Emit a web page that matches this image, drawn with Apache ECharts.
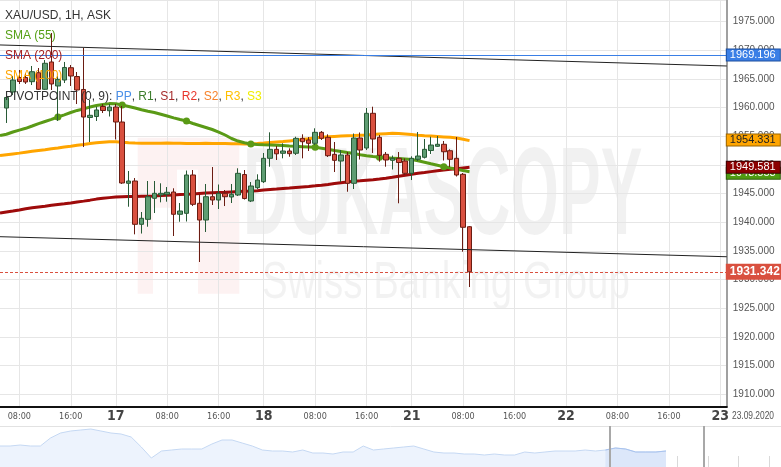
<!DOCTYPE html>
<html><head><meta charset="utf-8">
<script src="https://cdn.jsdelivr.net/npm/echarts@6/dist/echarts.min.js"></script>
<style>html,body{margin:0;padding:0;background:#fff}#c{width:781px;height:467px}</style>
</head><body><div id="c"></div>
<script>
// ---------- DATA ----------
// hourly candles XAU/USD, [open, close, low, high]
const candles = [
[1959.93,1961.77,1957.32,1962.20],[1962.73,1964.82,1962.20,1965.52],[1965.26,1964.56,1964.13,1966.57],
[1965.26,1964.47,1964.13,1966.05],[1964.53,1966.27,1963.95,1967.27],[1966.10,1963.20,1963.08,1966.92],
[1963.20,1967.74,1963.08,1968.31],[1967.97,1964.13,1963.08,1973.03],[1963.78,1964.94,1957.67,1965.52],
[1964.82,1967.01,1964.30,1967.97],[1966.97,1965.52,1963.78,1967.44],[1965.43,1963.08,1960.63,1966.22],
[1963.17,1958.36,1953.12,1970.41],[1958.28,1958.66,1954.00,1961.33],[1958.45,1959.59,1957.67,1960.16],
[1960.20,1959.50,1959.06,1960.63],[1959.46,1960.11,1958.45,1960.63],[1960.11,1957.49,1954.44,1960.63],
[1957.49,1946.84,1946.67,1960.28],[1946.79,1947.19,1942.70,1948.94],[1947.19,1939.63,1937.88,1947.71],
[1939.63,1940.68,1938.02,1941.78],[1940.50,1944.45,1939.21,1947.19],[1944.17,1945.04,1941.60,1947.19],
[1944.75,1945.04,1943.47,1946.79],[1944.87,1945.22,1943.58,1946.14],[1945.27,1941.38,1937.59,1945.92],
[1941.38,1941.95,1940.08,1943.35],[1941.55,1948.24,1940.12,1949.02],[1948.24,1943.12,1942.82,1949.11],
[1943.30,1940.38,1933.05,1944.92],[1940.38,1944.45,1938.29,1946.67],[1944.45,1943.87,1943.00,1949.63],
[1943.87,1945.04,1942.30,1946.58],[1945.04,1944.45,1942.82,1945.62],[1944.40,1944.87,1943.35,1946.67],
[1944.75,1948.53,1944.57,1949.41],[1948.32,1944.13,1943.96,1949.11],[1943.70,1946.32,1943.52,1947.01],
[1946.02,1947.36,1945.79,1948.36],[1947.07,1951.15,1946.84,1952.08],[1951.15,1952.72,1949.69,1955.69],
[1952.72,1951.94,1950.86,1953.30],[1952.03,1952.43,1951.15,1953.77],[1952.43,1951.96,1951.43,1952.90],
[1952.03,1954.64,1951.73,1954.92],[1954.64,1954.05,1951.15,1955.34],[1954.35,1953.77,1952.43,1954.87],
[1953.77,1955.69,1953.47,1956.39],[1955.69,1954.64,1954.35,1955.92],[1954.82,1951.61,1951.38,1955.34],
[1951.85,1950.80,1948.76,1954.00],[1950.68,1951.73,1947.01,1952.60],[1951.73,1946.79,1945.32,1952.25],
[1946.79,1954.70,1945.79,1955.48],[1954.70,1952.60,1950.94,1955.66],[1952.95,1959.01,1952.60,1959.94],
[1959.01,1954.52,1952.08,1960.16],[1954.82,1951.68,1950.56,1955.22],[1951.85,1950.86,1949.69,1952.25],
[1950.80,1951.15,1949.20,1951.64],[1951.15,1950.42,1943.30,1952.25],[1950.68,1948.53,1948.24,1951.12],
[1948.53,1951.15,1947.36,1951.50],[1950.98,1951.55,1950.68,1955.74],[1951.33,1952.72,1951.12,1954.52],
[1952.51,1953.47,1951.90,1954.92],[1953.25,1953.60,1953.13,1955.05],[1953.60,1952.30,1950.77,1954.17],
[1952.48,1950.98,1949.63,1952.72],[1951.15,1948.24,1947.98,1954.87],[1948.36,1939.11,1934.85,1948.59],
[1939.21,1931.342,1928.68,1939.33]
];
// moving averages, first value is one slot before the first candle
const sma55 = [1955.12,1955.36,1955.74,1956.08,1956.39,1956.79,1957.21,1957.58,1957.94,1958.36,
1958.75,1959.15,1959.51,1959.79,1960.11,1960.37,1960.54,1960.70,1960.67,1960.46,
1960.20,1959.93,1959.62,1959.37,1959.15,1958.85,1958.54,1958.22,1957.93,1957.66,
1957.23,1956.88,1956.53,1956.18,1955.74,1955.22,1954.61,1954.17,1953.86,1953.65,
1953.56,1953.51,1953.47,1953.42,1953.37,1953.30,1953.25,1953.19,1953.13,1953.07,
1952.92,1952.72,1952.51,1952.34,1952.16,1951.99,1951.76,1951.59,1951.45,1951.33,
1951.24,1951.17,1951.10,1951.03,1950.93,1950.72,1950.47,1950.19,1949.95,1949.69,
1949.46,1949.23,1949.01,1948.80];
const sma100 = [1951.64,1951.78,1951.92,1952.06,1952.22,1952.37,1952.51,1952.65,1952.81,1952.95,
1953.11,1953.25,1953.42,1953.56,1953.72,1953.86,1953.96,1954.03,1954.05,1953.96,
1953.88,1953.82,1953.79,1953.77,1953.77,1953.80,1953.82,1953.80,1953.78,1953.76,
1953.75,1953.76,1953.77,1953.76,1953.74,1953.72,1953.70,1953.68,1953.66,1953.65,
1953.72,1953.81,1953.91,1954.00,1954.07,1954.19,1954.31,1954.43,1954.57,1954.73,
1954.82,1954.91,1954.98,1955.03,1955.08,1955.12,1955.17,1955.22,1955.29,1955.38,
1955.46,1955.52,1955.50,1955.40,1955.29,1955.18,1955.10,1955.03,1954.96,1954.89,
1954.82,1954.70,1954.49,1954.24];
const sma200 = [1941.60,1941.78,1941.95,1942.14,1942.34,1942.51,1942.65,1942.79,1942.95,1943.09,
1943.21,1943.35,1943.52,1943.68,1943.85,1944.03,1944.17,1944.29,1944.40,1944.45,
1944.48,1944.50,1944.53,1944.55,1944.59,1944.66,1944.71,1944.76,1944.82,1944.87,
1944.94,1945.02,1945.09,1945.15,1945.20,1945.23,1945.29,1945.34,1945.39,1945.44,
1945.51,1945.60,1945.69,1945.78,1945.88,1945.97,1946.07,1946.16,1946.25,1946.35,
1946.46,1946.60,1946.75,1946.89,1947.01,1947.14,1947.22,1947.33,1947.43,1947.54,
1947.68,1947.85,1948.03,1948.20,1948.38,1948.53,1948.67,1948.83,1948.99,1949.11,
1949.23,1949.35,1949.48,1949.58];
const sma55DotSlots = [8,18,28,38,48,58,68];
// channel trend lines: value at left edge, value at right edge
const upperChannel = [1970.94, 1967.27];
const lowerChannel = [1937.47, 1933.97];
const resistanceLevel = 1969.196;
const lastPrice = 1931.342;
const lastSma100 = 1954.331;
const lastSma200 = 1949.581;
const lastSma55 = 1948.553;
// trading sessions: day, first hour, last hour, daily 21:00 break
const sessions = [['16',5,23,true],['17',0,23,true],['18',0,23,true],['21',0,23,false],['22',0,23,false],['23',0,1,false]];
const yRange = [1907.79, 1978.79];
// navigator (overview) curve
const navValues = [21,21,22,21,21,29,34,36,37,38,36,34,33,30,20,9,16,17,18,18,18,23,27,27,24,21,17,16,16,15,
17,14,14,13,15,15,21,17,18,19,20,21,18,15,14,14,13,13,12,13,12,12,15,14,15,16,16,16,17,16,17,19,18,15,15,15,16];
const navWindow = [60.4, 69.7];

// ---------- BUILD ----------
const categories = [];
sessions.forEach(([d, h0, h1, brk]) => {
  for (let h = h0; h <= h1; h++) {
    if (brk && h === 21) continue;
    categories.push(d + ' ' + String(h).padStart(2, '0') + ':00');
  }
});
const showTick = (i, name) => /(00|08|16):00$/.test(name);
const FONT = "'Liberation Sans', Arial, sans-serif";
const NARROW = "'Liberation Sans Narrow', 'DejaVu Sans Condensed', 'Liberation Sans', sans-serif";
const HIDDEN = { color: 'rgba(0,0,0,0)', width: 0 };

function tag(value, bg, border, fg, opts) {
  return Object.assign({
    yAxis: value,
    lineStyle: HIDDEN,
    label: {
      show: true, position: 'end', distance: 0,
      formatter: value.toFixed(3),
      backgroundColor: bg, borderColor: border, borderWidth: 1,
      color: fg, fontSize: 11, fontFamily: FONT, lineHeight: 11,
      padding: [0, 3, 0, 3], width: 47, align: 'left', opacity: 1
    }
  }, opts || {});
}

const chart = echarts.init(document.getElementById('c'), null, { renderer: 'canvas' });
chart.setOption({
  animation: false,
  backgroundColor: '#ffffff',
  textStyle: { fontFamily: FONT },
  grid: [
    { left: -2.05, top: 0, width: 728.85, height: 406.7 },
    { left: 0, right: 0, top: 426, bottom: 0 }
  ],
  xAxis: [
    {
      type: 'category', data: categories, boundaryGap: false, gridIndex: 0,
      axisLine: { lineStyle: { color: '#111', width: 2 } },
      axisTick: { show: false },
      axisLabel: {
        interval: showTick, margin: 0, hideOverlap: false,
        formatter: (name) => {
          const [d, hm] = name.split(' ');
          return hm === '00:00' ? '{d|' + d + '}' : '{h|' + hm + '}';
        },
        rich: {
          h: { fontSize: 9, color: '#555', fontFamily: NARROW, lineHeight: 20 },
          d: { fontSize: 14, color: '#444', fontWeight: 'bold', fontFamily: NARROW, lineHeight: 20 }
        }
      },
      splitLine: { show: true, interval: showTick, lineStyle: { color: '#e6e6e6', width: 1 } }
    },
    {
      type: 'value', gridIndex: 1, min: 0, max: 77.4, interval: 3.05,
      axisLine: { show: false },
      axisTick: { show: true, inside: true, length: 11, lineStyle: { color: '#d9d9d9' } },
      axisLabel: { show: false }, splitLine: { show: false }
    }
  ],
  yAxis: [
    {
      type: 'value', position: 'right', gridIndex: 0,
      min: yRange[0], max: yRange[1], splitNumber: 14, minInterval: 5, maxInterval: 5,
      axisLine: { show: true, lineStyle: { color: '#a0a0a0', width: 2 } },
      axisTick: { show: false },
      axisLabel: {
        margin: 6, color: '#555', fontSize: 10, fontFamily: FONT,
        showMinLabel: false, showMaxLabel: false,
        formatter: (v) => v.toFixed(3)
      },
      splitLine: { show: true, lineStyle: { color: '#e6e6e6', width: 1 } }
    },
    { type: 'value', gridIndex: 1, min: 0, max: 41, show: false }
  ],
  series: [
    {
      name: 'SMA (100)', type: 'line', data: sma100, symbol: 'none', z: 2,
      lineStyle: { color: '#ffa500', width: 3 }
    },
    {
      name: 'SMA (200)', type: 'line', data: sma200, symbol: 'none', z: 2,
      lineStyle: { color: '#9e0b0b', width: 3 }
    },
    {
      name: 'SMA (55)', type: 'line', data: sma55, z: 2,
      showSymbol: true, showAllSymbol: true, symbol: 'circle',
      symbolSize: (v, p) => sma55DotSlots.includes(p.dataIndex - 1) ? 7 : 0,
      itemStyle: { color: '#5a9a16' },
      lineStyle: { color: '#5a9a16', width: 3 }
    },
    {
      name: 'XAU/USD', type: 'candlestick', z: 3,
      data: ['-'].concat(candles),
      barWidth: 5,
      itemStyle: {
        color: '#5e9d72', borderColor: '#285a36',
        color0: '#d9503f', borderColor0: '#6a1c12', borderWidth: 1
      },
      markLine: {
        silent: true, symbol: ['none', 'none'], animation: false,
        label: { show: false },
        data: [
          [{ coord: [categories[0], upperChannel[0]], lineStyle: { color: '#222', width: 1, type: 'solid' } },
           { coord: [categories[categories.length - 1], upperChannel[1]] }],
          [{ coord: [categories[0], lowerChannel[0]], lineStyle: { color: '#222', width: 1, type: 'solid' } },
           { coord: [categories[categories.length - 1], lowerChannel[1]] }],
          tag(resistanceLevel, '#3a7fe6', '#1c4f9e', '#ffffff', { lineStyle: { color: '#3a7fe6', width: 1, type: 'solid' } }),
          tag(lastSma100, '#ffa500', '#9a6400', '#222222'),
          tag(lastSma55, '#4f9a12', '#2e5e08', '#ffffff'),
          tag(lastSma200, '#8b0000', '#3a0000', '#ffffff'),
          (function () {
            const t = tag(lastPrice, '#d9503f', '#d9503f', '#ffffff', { lineStyle: { color: '#d9503f', width: 1, type: [3, 2] } });
            t.label.fontSize = 12; t.label.fontWeight = 'bold'; t.label.lineHeight = 13; t.label.padding = [1, 2, 0, 3]; t.label.width = 50;
            return t;
          })()
        ]
      }
    },
    {
      name: 'nav', type: 'line', xAxisIndex: 1, yAxisIndex: 1, symbol: 'none', z: 1,
      data: navValues.map((v, i) => [i, v]),
      lineStyle: { color: '#c5d8f3', width: 1 },
      areaStyle: { color: '#edf3fd', opacity: 1 }
    },
    {
      name: 'navWindow', type: 'line', xAxisIndex: 1, yAxisIndex: 1, symbol: 'none', z: 1,
      data: navValues.slice(60).map((v, i) => [60 + i, v]),
      lineStyle: { color: '#a9c3ee', width: 1 },
      areaStyle: { color: '#dce7fa', opacity: 1 },
      markLine: {
        silent: true, symbol: ['none', 'none'], label: { show: false },
        lineStyle: { color: '#a8a8a8', width: 2, type: 'solid' },
        data: [{ xAxis: navWindow[0] }, { xAxis: navWindow[1] }]
      }
    }
  ],
  graphic: { elements: [
    // watermark logo
    { type: 'rect', z: -1, shape: { x: 137.7, y: 137.7, width: 15.3, height: 156 }, style: { fill: 'rgba(225,70,70,0.07)' } },
    { type: 'rect', z: -1, shape: { x: 153, y: 137.7, width: 24, height: 70 }, style: { fill: 'rgba(225,70,70,0.07)' } },
    { type: 'rect', z: -1, shape: { x: 177, y: 137.7, width: 21, height: 32 }, style: { fill: 'rgba(225,70,70,0.07)' } },
    { type: 'rect', z: -1, shape: { x: 198, y: 137.7, width: 41.3, height: 156 }, style: { fill: 'rgba(225,70,70,0.07)' } },
    { type: 'text', z: -1, x: 243, y: 200, scaleX: 0.5,
      style: { text: 'DUKASCOPY', font: 'bold 125px ' + FONT, fill: 'rgba(0,0,0,0.055)', verticalAlign: 'middle' } },
    { type: 'text', z: -1, x: 262, y: 284, scaleX: 0.74,
      style: { text: 'Swiss Banking Group', font: '52px ' + FONT, fill: 'rgba(0,0,0,0.05)', verticalAlign: 'middle' } },
    // legend texts (own layer, above the candles)
    { type: 'text', zlevel: 1, x: 5, y: 15.7, style: { text: 'XAU/USD, 1H, ASK', font: '12px ' + FONT, fill: '#333', verticalAlign: 'middle' } },
    { type: 'text', zlevel: 1, x: 5, y: 35.7, style: { text: 'SMA (55)', font: '12px ' + FONT, fill: '#55a015', verticalAlign: 'middle' } },
    { type: 'text', zlevel: 1, x: 5, y: 55.7, style: { text: 'SMA (200)', font: '12px ' + FONT, fill: '#a52020', verticalAlign: 'middle' } },
    { type: 'text', zlevel: 1, x: 5, y: 75.7, style: { text: 'SMA (100)', font: '12px ' + FONT, fill: '#ffa500', verticalAlign: 'middle' } },
    { type: 'text', zlevel: 1, x: 5, y: 96.7, style: {
        text: '{a|PIVOTPOINT (0, 9): }{pp|PP}{a|, }{r1|R1}{a|, }{s1|S1}{a|, }{r2|R2}{a|, }{s2|S2}{a|, }{r3|R3}{a|, }{s3|S3}',
        font: '12px ' + FONT, verticalAlign: 'middle',
        rich: {
          a: { fill: '#333', font: '12px ' + FONT },
          pp: { fill: '#4a8fe8', font: '12px ' + FONT },
          r1: { fill: '#3c7d2c', font: '12px ' + FONT },
          s1: { fill: '#a52a2a', font: '12px ' + FONT },
          r2: { fill: '#e8362c', font: '12px ' + FONT },
          s2: { fill: '#f7822a', font: '12px ' + FONT },
          r3: { fill: '#ffc000', font: '12px ' + FONT },
          s3: { fill: '#f0ee00', font: '12px ' + FONT }
        } } },
    // date stamp at the right end of the time axis
    { type: 'text', zlevel: 1, x: 732, y: 416.7, scaleX: 0.84, style: { text: '23.09.2020', font: '10px ' + FONT, fill: '#555', verticalAlign: 'middle' } },
    // navigator top border
    { type: 'line', z: 5, shape: { x1: 0, y1: 426.5, x2: 781, y2: 426.5 }, style: { stroke: '#e2e2e2', lineWidth: 1 } }
  ] }
});
</script>
</body></html>
